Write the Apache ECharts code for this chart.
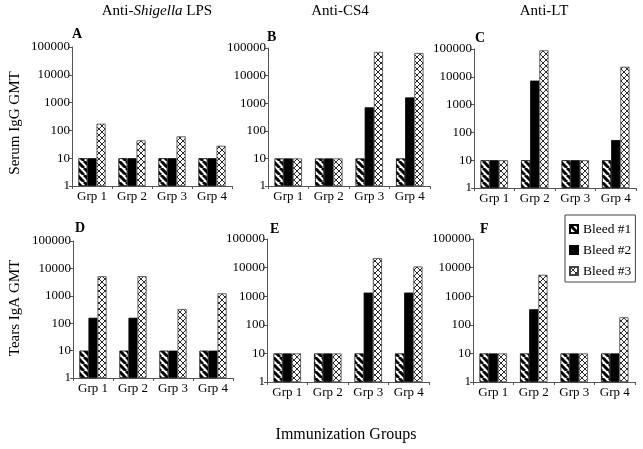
<!DOCTYPE html>
<html>
<head>
<meta charset="utf-8">
<script src="https://cdn.jsdelivr.net/npm/echarts@6/dist/echarts.min.js"></script>
<style>
html,body{margin:0;padding:0;background:#fff;}
#chart{width:643px;height:449px;}
</style>
</head>
<body>
<div id="chart"></div>
<script>
// ---- data ----
const groups = ['Grp 1', 'Grp 2', 'Grp 3', 'Grp 4'];
const seriesNames = ['Bleed #1', 'Bleed #2', 'Bleed #3'];
const yTicks = [1, 10, 100, 1000, 10000, 100000];
const colTitles = ['Anti-Shigella LPS', 'Anti-CS4', 'Anti-LT'];
const rowTitles = ['Serum IgG GMT', 'Tears IgA GMT'];
const panelLetters = ['A', 'B', 'C', 'D', 'E', 'F'];
const xTitle = 'Immunization Groups';

const aBleed1 = [10, 10, 10, 10];
const aBleed2 = [10, 10, 10, 10];
const aBleed3 = [174, 44, 61, 28];

const bBleed1 = [10, 10, 10, 10];
const bBleed2 = [10, 10, 710, 1620];
const bBleed3 = [10, 10, 72000, 66000];

const cBleed1 = [10, 10, 10, 10];
const cBleed2 = [10, 7300, 10, 53];
const cBleed3 = [10, 90000, 10, 23000];

const dBleed1 = [10, 10, 10, 10];
const dBleed2 = [158, 158, 10, 10];
const dBleed3 = [5200, 5200, 330, 1230];

const eBleed1 = [10, 10, 10, 10];
const eBleed2 = [10, 10, 1340, 1340];
const eBleed3 = [10, 10, 21500, 11000];

const fBleed1 = [10, 10, 10, 10];
const fBleed2 = [10, 350, 10, 10];
const fBleed3 = [10, 5600, 10, 183];

const panels = [
  [aBleed1, aBleed2, aBleed3],
  [bBleed1, bBleed2, bBleed3],
  [cBleed1, cBleed2, cBleed3],
  [dBleed1, dBleed2, dBleed3],
  [eBleed1, eBleed2, eBleed3],
  [fBleed1, fBleed2, fBleed3]
];

// ---- layout ----
const grids = [
  {left: 72, top: 47, width: 160, height: 139},
  {left: 268, top: 48, width: 162, height: 138},
  {left: 474, top: 49, width: 162, height: 139},
  {left: 73, top: 241, width: 160, height: 137},
  {left: 267, top: 239, width: 162, height: 143},
  {left: 473, top: 239, width: 162, height: 143}
];

const FONT = '"Liberation Serif", "DejaVu Serif", serif';

function stripePattern() {
  const s = 7;
  const c = document.createElement('canvas');
  c.width = s; c.height = s;
  const g = c.getContext('2d');
  g.fillStyle = '#fff'; g.fillRect(0, 0, s, s);
  g.strokeStyle = '#000'; g.lineWidth = 3;
  for (const o of [-s, 0, s]) {
    g.beginPath(); g.moveTo(o, 0); g.lineTo(o + s, s); g.stroke();
  }
  return c;
}
function crossPattern() {
  const s = 6;
  const c = document.createElement('canvas');
  c.width = s; c.height = s;
  const g = c.getContext('2d');
  g.fillStyle = '#fff'; g.fillRect(0, 0, s, s);
  g.strokeStyle = '#111'; g.lineWidth = 0.9;
  for (const o of [-s, 0, s]) {
    g.beginPath(); g.moveTo(o, 0); g.lineTo(o + s, s); g.stroke();
    g.beginPath(); g.moveTo(o + s, 0); g.lineTo(o, s); g.stroke();
  }
  return c;
}

const fills = [
  {image: stripePattern(), repeat: 'repeat'},
  '#000',
  {image: crossPattern(), repeat: 'repeat'}
];
const borders = ['#000', '#000', '#444'];

const xAxis = [], yAxis = [], series = [], grid = [];
grids.forEach((gp, i) => {
  grid.push(gp);
  xAxis.push({
    type: 'category', gridIndex: i, data: groups,
    axisLine: {lineStyle: {color: '#555', width: 1}},
    axisTick: {show: true, alignWithLabel: false, length: 3, lineStyle: {color: '#555'}},
    axisLabel: {color: '#000', fontFamily: FONT, fontSize: 13, margin: 4, interval: 0},
    splitLine: {show: false}
  });
  yAxis.push({
    type: 'log', logBase: 10, gridIndex: i, min: yTicks[0], max: yTicks[yTicks.length - 1],
    axisLine: {show: true, lineStyle: {color: '#555', width: 1}},
    axisTick: {show: true, length: 3, lineStyle: {color: '#555'}},
    axisLabel: {color: '#000', fontFamily: FONT, fontSize: 13, margin: 2,
                formatter: v => String(Math.round(v))},
    splitLine: {show: false},
    minorTick: {show: false}
  });
  panels[i].forEach((vals, k) => {
    series.push({
      name: seriesNames[k], type: 'bar', xAxisIndex: i, yAxisIndex: i,
      data: vals,
      barGap: '0%', barCategoryGap: '32%',
      itemStyle: {color: fills[k], borderColor: borders[k], borderWidth: 0.8},
      emphasis: {disabled: true},
      animation: false
    });
  });
});

const titles = [];
const titleX = [157, 340, 544];
colTitles.forEach((t, i) => {
  let text = t, rich = {};
  if (t.indexOf('Shigella') >= 0) {
    text = '{n|Anti-}{i|Shigella}{n| LPS}';
    rich = {
      n: {fontFamily: FONT, fontSize: 15, color: '#000'},
      i: {fontFamily: FONT, fontSize: 15, fontStyle: 'italic', color: '#000'}
    };
  }
  titles.push({
    text: text, left: titleX[i], top: 4, textAlign: 'center', padding: 0,
    textStyle: {fontFamily: FONT, fontSize: 15, fontWeight: 'normal', color: '#000', rich: rich}
  });
});
const letterPos = [[72, 27], [267, 30], [475, 31], [75, 221], [270, 222], [480, 222]];
panelLetters.forEach((l, i) => {
  titles.push({
    text: l, left: letterPos[i][0], top: letterPos[i][1], padding: 0,
    textStyle: {fontFamily: FONT, fontSize: 14, fontWeight: 'bold', color: '#000'}
  });
});
titles.push({
  text: xTitle, left: 346, top: 427, textAlign: 'center', padding: 0,
  textStyle: {fontFamily: FONT, fontSize: 16, fontWeight: 'normal', color: '#000'}
});

const chart = echarts.init(document.getElementById('chart'), null, {renderer: 'canvas'});
chart.setOption({
  animation: false,
  backgroundColor: '#fff',
  title: titles,
  grid: grid,
  xAxis: xAxis,
  yAxis: yAxis,
  series: series,
  legend: {
    data: seriesNames,
    orient: 'vertical',
    left: 565, top: 215,
    padding: [7, 4, 4, 4],
    itemWidth: 8, itemHeight: 8, itemGap: 7,
    icon: 'rect',
    borderColor: '#444', borderWidth: 1,
    textStyle: {fontFamily: FONT, fontSize: 13.5, color: '#000', lineHeight: 14}
  },
  graphic: [
    {type: 'text', x: 15, y: 123, rotation: Math.PI / 2,
     style: {text: rowTitles[0], font: '15px ' + FONT, fill: '#000', textAlign: 'center', textVerticalAlign: 'middle'}},
    {type: 'text', x: 15, y: 308, rotation: Math.PI / 2,
     style: {text: rowTitles[1], font: '15px ' + FONT, fill: '#000', textAlign: 'center', textVerticalAlign: 'middle'}}
  ]
});
</script>
</body>
</html>
